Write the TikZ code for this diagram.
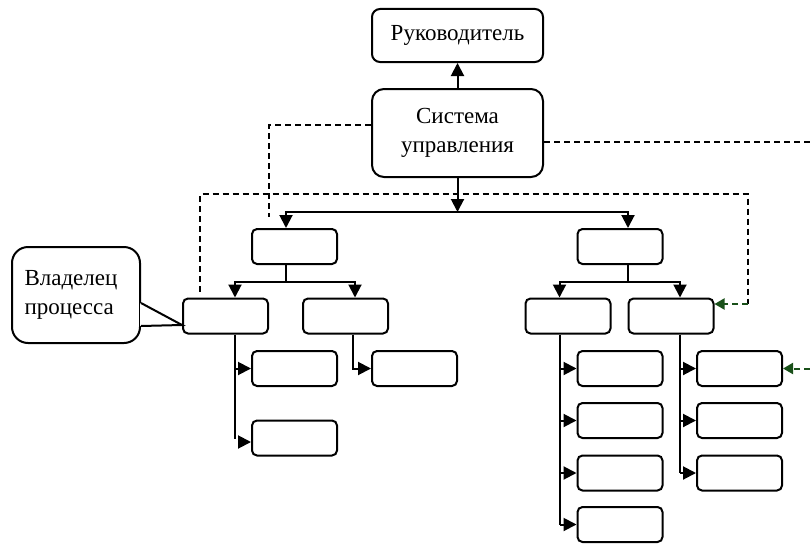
\documentclass[tikz,border=0pt]{standalone}
\usepackage{fontspec}
\setmainfont{Liberation Serif}
\usetikzlibrary{arrows.meta,calc,positioning}
\definecolor{fbgreen}{RGB}{25,80,25}

\begin{document}
\begin{tikzpicture}[x=1pt, y=-1pt, line width=2pt,
        font=\fontsize{23}{29}\selectfont,
        block/.style={draw, rectangle, rounded corners=5pt, minimum width=85pt, minimum height=35pt, inner sep=0pt},
        head/.style={draw, rectangle, minimum width=171pt, align=center, inner sep=0pt},
        arr/.style={-{Triangle[length=13pt,width=13pt]}},
        link/.style={dash pattern=on 6pt off 4pt},
        fb/.style={link, fbgreen, -{Triangle[length=10pt,width=11pt]}}
    ]
        \useasboundingbox (0,0) rectangle (810,543);

        \node [head, minimum height=53pt, rounded corners=8pt] (boss) at (457.5,35.5) {Руководитель};
        \node [head, minimum height=88pt, rounded corners=12pt] (sys) at (457.5,133) {Система\\управления};

        % first level
        \node [block] (unitL) at (294.5,246.5) {};
        \node [block] (unitR) at (620,246.5) {};

        % second level
        \node [block] (L1) at (225.5,316) {};
        \node [block] (L2) at (345.5,316) {};
        \node [block] (R1) at (568,316) {};
        \node [block] (R2) at (671,316) {};

        % third level
        \node [block] (L1a) at (294.5,368.5) {};
        \node [block] (L1b) at (294.5,438) {};
        \node [block] (L2a) at (414.5,368.5) {};
        \node [block] (R1a) at (620,368.5) {};
        \node [block] (R1b) at (620,420.5) {};
        \node [block] (R1c) at (620,473) {};
        \node [block] (R1d) at (620,524.5) {};
        \node [block] (R2a) at (739.5,368.5) {};
        \node [block] (R2b) at (739.5,420.5) {};
        \node [block] (R2c) at (739.5,473) {};

        % process owner callout
        \node [draw, rounded corners=16pt, minimum width=128pt, minimum height=96pt, text width=103pt,
               align=left, inner xsep=12.5pt, inner ysep=0pt] (owner) at (76,295) {Владелец\\процесса};
        \coordinate (tip) at ($(L1.west)+(0,9)$);
        \fill [white] ($(owner.east)+(-1,8)$) -- (tip) -- ($(owner.east)+(-1,31)$) -- cycle;
        \draw ($(owner.east)+(0,8)$) -- (tip) -- ($(owner.east)+(0,31)$);

        % main tree
        \coordinate (bus) at (457.5,212);
        \draw [arr] (sys) -- (boss);
        \draw [arr] (sys) -- (bus);
        \draw [arr] (bus) -| ($(unitL.north)+(-8.5,0)$);
        \draw [arr] (bus) -| ($(unitR.north)+(8,0)$);

        \coordinate (busL) at ($(unitL.south)+(-8.5,17)$);
        \draw ($(unitL.south)+(-8.5,0)$) -- (busL);
        \draw [arr] (busL) -| ($(L1.north)+(9.5,0)$);
        \draw [arr] (busL) -| ($(L2.north)+(9.5,0)$);

        \coordinate (busR) at ($(unitR.south)+(8,17)$);
        \draw ($(unitR.south)+(8,0)$) -- (busR);
        \draw [arr] (busR) -| ($(R1.north)+(-8.5,0)$);
        \draw [arr] (busR) -| ($(R2.north)+(9,0)$);

        % lower branches
        \coordinate (stemL1) at ($(L1.south)+(9.5,0)$);
        \coordinate (stemL2) at ($(L2.south)+(7.5,0)$);
        \coordinate (stemR1) at ($(R1.south)+(-8.5,0)$);
        \coordinate (stemR2) at ($(R2.south)+(9,0)$);
        \draw (stemL1) -- ($(stemL1 |- L1b.west)+(0,1)$);
        \draw [arr] (L1a.west -| stemL1) -- (L1a.west);
        \draw [arr] ($(L1b.west -| stemL1)+(4,4)$) -- ($(L1b.west)+(0,4)$);
        \draw [arr] (stemL2) |- (L2a.west);
        \draw (stemR1) -- (stemR1 |- R1d.west);
        \foreach \n in {R1a,R1b,R1c,R1d}
            \draw [arr] (\n.west -| stemR1) -- (\n.west);
        \draw (stemR2) -- (stemR2 |- R2c.west);
        \foreach \n in {R2a,R2b,R2c}
            \draw [arr] (\n.west -| stemR2) -- (\n.west);

        % dashed links
        \draw [link] ($(sys.west)+(0,-8)$) -| ($(unitL.north)+(-25.5,-11)$);
        \coordinate (fbturn) at (748,194);
        \coordinate (fbend) at (748,304);
        \draw [link] ($(L1.north)+(-25.5,-6)$) |- (fbturn) -- (fbend);
        \draw [fb] (fbend) -- ($(R2.east)+(0,-12)$);
        \coordinate (outA) at (810,142);
        \draw [link] ($(sys.east)+(0,9)$) -- (outA);
        \coordinate (outB) at (810,368.5);
        \draw [fb] (outB) -- (R2a.east);
    \end{tikzpicture}
\end{document}
